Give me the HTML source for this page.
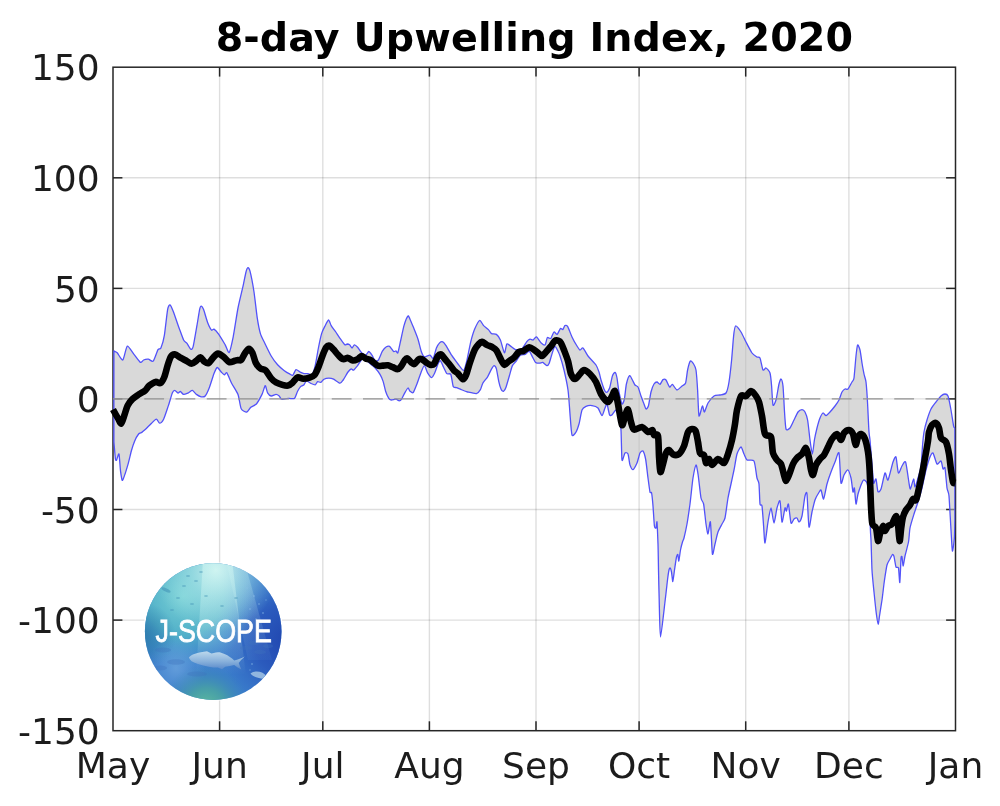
<!DOCTYPE html>
<html lang="en">
<head>
<meta charset="utf-8">
<title>8-day Upwelling Index, 2020</title>
<style>
html,body{margin:0;padding:0;background:#fff;}
body{width:1000px;height:806px;overflow:hidden;}
svg{display:block;}
.tick{font-family:"DejaVu Sans","Liberation Sans",sans-serif;font-size:36px;fill:#1c1c1c;}
.title{font-family:"DejaVu Sans","Liberation Sans",sans-serif;font-weight:bold;font-size:39.6px;letter-spacing:0.1px;fill:#000;}
.logo{font-family:"Liberation Sans","DejaVu Sans",sans-serif;font-size:31px;fill:#fff;stroke:#fff;stroke-width:0.8px;}
</style>
</head>
<body>
<svg width="1000" height="806" viewBox="0 0 1000 806">
<defs>
<clipPath id="plotclip"><rect x="113" y="67.2" width="842.5" height="663.5"/></clipPath>
<clipPath id="lineclip"><rect x="108" y="60" width="852" height="680"/></clipPath>
<clipPath id="logoclip"><circle cx="213.2" cy="631.6" r="68.3"/></clipPath>
<radialGradient id="lgA" gradientUnits="userSpaceOnUse" cx="183" cy="596" r="72">
<stop offset="0" stop-color="#7ad2d6" stop-opacity="1"/>
<stop offset="0.55" stop-color="#54b6c8" stop-opacity="0.88"/>
<stop offset="1" stop-color="#4a9fd0" stop-opacity="0"/>
</radialGradient>
<radialGradient id="lgB" gradientUnits="userSpaceOnUse" cx="216" cy="570" r="62">
<stop offset="0" stop-color="#d4f6f2" stop-opacity="0.95"/>
<stop offset="0.45" stop-color="#aee8ea" stop-opacity="0.55"/>
<stop offset="1" stop-color="#9ee0e6" stop-opacity="0"/>
</radialGradient>
<radialGradient id="lgC" gradientUnits="userSpaceOnUse" cx="290" cy="640" r="72">
<stop offset="0" stop-color="#1f44ae" stop-opacity="1"/>
<stop offset="0.5" stop-color="#264fb8" stop-opacity="0.75"/>
<stop offset="1" stop-color="#2b5cc0" stop-opacity="0"/>
</radialGradient>
<radialGradient id="lgD" gradientUnits="userSpaceOnUse" cx="142" cy="636" r="34">
<stop offset="0" stop-color="#2a78a8" stop-opacity="0.85"/>
<stop offset="1" stop-color="#2a78a8" stop-opacity="0"/>
</radialGradient>
<radialGradient id="lgE" gradientUnits="userSpaceOnUse" cx="206" cy="708" r="44">
<stop offset="0" stop-color="#62c09c" stop-opacity="1"/>
<stop offset="0.45" stop-color="#4aa6a0" stop-opacity="0.8"/>
<stop offset="1" stop-color="#3a86b8" stop-opacity="0"/>
</radialGradient>
<radialGradient id="lgF" gradientUnits="userSpaceOnUse" cx="176" cy="668" r="30">
<stop offset="0" stop-color="#7cb2e4" stop-opacity="0.6"/>
<stop offset="1" stop-color="#7cb2e4" stop-opacity="0"/>
</radialGradient>
<linearGradient id="lgFish" x1="0" y1="0" x2="0" y2="1">
<stop offset="0" stop-color="#c2dcee"/>
<stop offset="0.55" stop-color="#8db4dc"/>
<stop offset="1" stop-color="#5a8aca"/>
</linearGradient>
<linearGradient id="lgBeam" gradientUnits="userSpaceOnUse" x1="0" y1="562" x2="0" y2="675">
<stop offset="0" stop-color="#d0f6f2" stop-opacity="0.55"/>
<stop offset="1" stop-color="#d0f6f2" stop-opacity="0"/>
</linearGradient>
</defs>
<rect x="0" y="0" width="1000" height="806" fill="#ffffff"/>

<g stroke="#000" stroke-opacity="0.13" stroke-width="1.4" fill="none">
<line x1="219.6" y1="67.2" x2="219.6" y2="730.7"/>
<line x1="322.8" y1="67.2" x2="322.8" y2="730.7"/>
<line x1="429.4" y1="67.2" x2="429.4" y2="730.7"/>
<line x1="536" y1="67.2" x2="536" y2="730.7"/>
<line x1="639.1" y1="67.2" x2="639.1" y2="730.7"/>
<line x1="745.7" y1="67.2" x2="745.7" y2="730.7"/>
<line x1="848.9" y1="67.2" x2="848.9" y2="730.7"/>
<line x1="113" y1="177.8" x2="955.5" y2="177.8"/>
<line x1="113" y1="288.4" x2="955.5" y2="288.4"/>
<line x1="113" y1="398.9" x2="955.5" y2="398.9"/>
<line x1="113" y1="509.5" x2="955.5" y2="509.5"/>
<line x1="113" y1="620.1" x2="955.5" y2="620.1"/>
</g>
<g stroke="#262626" stroke-width="1.5" fill="none" stroke-linecap="butt">
<rect x="113" y="67.2" width="842.5" height="663.5"/>
<line x1="219.6" y1="730.7" x2="219.6" y2="721.3"/>
<line x1="219.6" y1="67.2" x2="219.6" y2="76.6"/>
<line x1="322.8" y1="730.7" x2="322.8" y2="721.3"/>
<line x1="322.8" y1="67.2" x2="322.8" y2="76.6"/>
<line x1="429.4" y1="730.7" x2="429.4" y2="721.3"/>
<line x1="429.4" y1="67.2" x2="429.4" y2="76.6"/>
<line x1="536" y1="730.7" x2="536" y2="721.3"/>
<line x1="536" y1="67.2" x2="536" y2="76.6"/>
<line x1="639.1" y1="730.7" x2="639.1" y2="721.3"/>
<line x1="639.1" y1="67.2" x2="639.1" y2="76.6"/>
<line x1="745.7" y1="730.7" x2="745.7" y2="721.3"/>
<line x1="745.7" y1="67.2" x2="745.7" y2="76.6"/>
<line x1="848.9" y1="730.7" x2="848.9" y2="721.3"/>
<line x1="848.9" y1="67.2" x2="848.9" y2="76.6"/>
<line x1="113" y1="177.8" x2="122.4" y2="177.8"/>
<line x1="955.5" y1="177.8" x2="946.1" y2="177.8"/>
<line x1="113" y1="288.4" x2="122.4" y2="288.4"/>
<line x1="955.5" y1="288.4" x2="946.1" y2="288.4"/>
<line x1="113" y1="398.9" x2="122.4" y2="398.9"/>
<line x1="955.5" y1="398.9" x2="946.1" y2="398.9"/>
<line x1="113" y1="509.5" x2="122.4" y2="509.5"/>
<line x1="955.5" y1="509.5" x2="946.1" y2="509.5"/>
<line x1="113" y1="620.1" x2="122.4" y2="620.1"/>
<line x1="955.5" y1="620.1" x2="946.1" y2="620.1"/>
</g>
<g clip-path="url(#plotclip)">
<path d="M113.9 350.9 C114.3 351.1 116.2 351.8 117.2 352.8 C118.2 353.8 121.7 360.7 122.8 360 C123.9 359.3 126.1 346.7 127.3 346.1 C128.5 345.5 132.5 352.6 134 354.4 C135.5 356.2 139.3 361.8 140.4 362.4 C141.5 363 142.7 360.4 143.6 360 C144.5 359.6 147.3 359.1 148.4 359.2 C149.5 359.3 152.1 362.2 153.2 361.1 C154.3 360 157.1 351.1 158 349.6 C158.9 348.1 160.2 349.6 160.9 348 C161.6 346.4 163.7 339.5 164.4 335.2 C165.1 330.9 167 313 167.6 309.6 C168.2 306.2 169.4 304.6 170 304.8 C170.6 305 172.2 308.7 173.2 311.2 C174.2 313.7 177.6 324 178.8 327.2 C180 330.4 182.7 338.2 183.6 340 C184.5 341.8 186 342.2 186.8 343.2 C187.6 344.2 190.1 348.9 190.8 349.3 C191.5 349.7 192.5 349.2 193.2 346.4 C193.9 343.6 196.5 328.1 197.2 324 C197.9 319.9 199.2 311.6 199.6 309.6 C200 307.6 200.8 306.1 201.2 306.1 C201.6 306.1 202.9 307.8 203.6 309.6 C204.3 311.4 206.7 320.1 207.6 322.4 C208.5 324.7 210.9 329.4 211.6 330.1 C212.3 330.8 213.2 328.6 214 329.1 C214.8 329.6 217.6 332.7 218.8 334.4 C220 336.1 224 342.8 225.2 344.8 C226.4 346.8 228.3 353.4 229.2 352.5 C230.1 351.6 232.2 341.7 233.2 336.8 C234.2 331.9 236.9 313.5 238 308 C239.1 302.5 241.9 291.2 242.8 287.2 C243.7 283.2 245.4 274.2 246 272 C246.6 269.8 247.5 267.8 247.9 267.7 C248.3 267.6 249.3 268.5 250 271.2 C250.7 273.9 253.2 286.8 254 292 C254.8 297.2 256.5 313 257.2 317.6 C257.9 322.2 259.6 330.8 260.4 333.6 C261.2 336.4 263.6 340.7 264.8 343.2 C266 345.7 269.8 353.6 271.2 356 C272.6 358.4 276.2 363.2 277.6 364.8 C279 366.4 282.7 369.4 284 370.4 C285.3 371.4 288.6 373.4 289.6 373.9 C290.6 374.4 292.1 375.7 292.8 375.2 C293.5 374.7 295.2 370 296 369.6 C296.8 369.2 299.1 371.6 300 372 C300.9 372.4 303.1 373.4 304 373.6 C304.9 373.8 307.1 373.5 308 373.6 C308.9 373.7 311.2 375.3 312 374.4 C312.8 373.5 314.5 368.5 315.2 365.6 C315.9 362.7 317.7 351.6 318.4 348 C319.1 344.4 320.9 336 321.6 333.6 C322.3 331.2 324 327.9 324.8 326.4 C325.6 324.9 327.8 320.1 328.5 320 C329.2 319.9 330.5 324.4 331.2 325.6 C331.9 326.8 334.2 329.8 335.2 331.2 C336.2 332.6 338.9 336.9 340 338.4 C341.1 339.9 344 344.2 344.8 344.8 C345.6 345.4 346.7 344 347.2 344 C347.7 344 349.1 344.4 349.6 344.8 C350.1 345.2 351.5 348 352 348 C352.5 348 353.8 344.9 354.4 344.8 C355 344.7 356.8 346.3 357.6 347.2 C358.4 348.1 360.7 351.9 361.6 352.8 C362.5 353.7 364.8 355.3 365.6 355.2 C366.4 355.1 368.1 351.5 368.8 351.5 C369.5 351.5 371.3 354.2 372 355.2 C372.7 356.2 374.5 360.3 375.2 360.8 C375.9 361.3 377.6 361.1 378.4 360 C379.2 358.9 381.5 352.7 382.4 351.2 C383.3 349.7 385.6 347.2 386.4 346.7 C387.2 346.2 388.8 345.9 389.6 346.4 C390.4 346.9 392.9 351 393.6 351.5 C394.3 352 395.5 350.8 396 350.9 C396.5 351 397.4 354 397.9 352.8 C398.4 351.6 400.1 343 400.8 340 C401.5 337 403.2 328.3 404 325.6 C404.8 322.9 407.3 316.7 408 316 C408.7 315.3 409.3 317.8 410 319.2 C410.7 320.6 413.1 326.6 414 328.8 C414.9 331 417.2 336.7 418 339.2 C418.8 341.7 420.5 349.2 421.2 351.2 C421.9 353.2 423.4 356.4 424.4 356.8 C425.4 357.2 429 355 430 355.2 C431 355.4 432.5 359.2 433.2 358.4 C433.9 357.6 435.7 349.7 436.4 348 C437.1 346.3 438.9 343.6 439.6 342.9 C440.3 342.2 442.1 341.6 442.8 341.9 C443.5 342.2 445 344.1 446 345.6 C447 347.1 450.3 353.2 451.6 355.2 C452.9 357.2 456.7 362.3 458 364 C459.3 365.7 462.6 370.8 463.6 370.4 C464.6 370 466 364 466.8 360.8 C467.6 357.6 469.9 345.2 470.8 341.6 C471.7 338 473.8 331.1 474.8 328.8 C475.8 326.5 478.6 320.9 479.6 320.5 C480.6 320.1 482.6 324.6 483.6 325.6 C484.6 326.6 487.5 328.7 488.4 329.6 C489.3 330.5 490.7 333.1 491.6 333.6 C492.5 334.1 495.4 333.7 496.4 334.4 C497.4 335.1 499.5 338 500.4 340 C501.3 342 503.7 352.4 504.4 352.8 C505.1 353.2 506.2 344.8 506.8 344 C507.4 343.2 509 345 510 345.6 C511 346.2 514.3 349.2 515.6 349.6 C516.9 350 520.8 349.7 522 348.8 C523.2 347.9 525.9 342.7 526.8 341.6 C527.7 340.5 529.3 339.4 530 339.2 C530.7 339 532.5 340.3 533.2 340 C533.9 339.7 535.5 336.5 536.4 336.8 C537.3 337.1 540.2 342 541.2 342.9 C542.2 343.8 544.5 345.4 545.2 344.8 C545.9 344.2 546.7 338.3 547.3 337.6 C547.9 336.9 550.1 339 550.8 338.4 C551.5 337.8 553.3 332.4 554 332 C554.7 331.6 556.5 334.8 557.2 334.4 C557.9 334 559.8 329 560.4 328.5 C561 328 562.3 329.9 562.8 329.6 C563.3 329.3 564.4 326 564.9 325.6 C565.4 325.2 566.8 325.1 567.6 326.4 C568.4 327.7 571 334.8 572 337 C573 339.2 576.1 344.6 577 346 C577.9 347.4 579.3 349.8 580 350 C580.7 350.2 582.1 347.3 583 348 C583.9 348.7 586.6 354.1 588 356 C589.4 357.9 594.8 363.2 596 365 C597.2 366.8 598.4 370.3 599 372 C599.6 373.7 600.4 378.1 601 380 C601.6 381.9 603.4 387.6 604 389 C604.6 390.4 605.8 392.5 606.4 392.4 C607 392.3 608.9 389.8 609.6 388 C610.3 386.2 611.8 377.7 612.4 376 C613 374.3 614.5 372.2 615 372.4 C615.5 372.6 616.6 375.8 617 378 C617.4 380.2 618.4 389.1 619 392 C619.6 394.9 621.4 403.2 622 404 C622.6 404.8 623.9 401.2 624.4 399 C624.9 396.8 625.8 386.6 626.4 384 C627 381.4 628.9 376 629.6 375.6 C630.3 375.2 631.8 379 632.4 380 C633 381 634.4 384.2 635 385 C635.6 385.8 637.3 385.8 638 387 C638.7 388.2 640.3 394.1 641 396 C641.7 397.9 643.4 402.6 644 404 C644.6 405.4 645.5 408.8 646 409 C646.5 409.2 647.8 407.9 648.4 406 C649 404.1 650.4 394.4 651 392 C651.6 389.6 653.3 385.1 654 384 C654.7 382.9 656.3 382 657 382 C657.7 382 659.3 384.7 660 384.4 C660.7 384.1 662.3 380.1 663 379.6 C663.7 379.1 665.3 379.2 666 380 C666.7 380.8 668.9 386.5 669.6 387 C670.3 387.5 671.6 384.1 672.4 384.4 C673.2 384.7 675.9 389.8 677 390 C678.1 390.2 681 386.8 682 386 C683 385.2 685 384.8 685.6 383 C686.2 381.2 687.1 372.4 687.6 370 C688.1 367.6 689.7 361.7 690.4 361 C691.1 360.3 693 363 693.6 364 C694.2 365 695.6 367.1 696 370 C696.4 372.9 697.3 384.9 697.6 390 C697.9 395.1 698.5 414.2 699 416 C699.5 417.8 701.8 406.4 702.4 406 C703 405.6 703.8 412.3 704.4 412 C705 411.7 706.9 404.8 708 403 C709.1 401.2 712.7 396.9 714 396 C715.3 395.1 718.7 395.3 720 395 C721.3 394.7 725 394.4 726 393 C727 391.6 728.4 385.7 729 382 C729.6 378.3 731.1 365.1 731.6 360 C732.1 354.9 733.2 339.8 733.6 336 C734 332.2 734.8 326.4 735.6 326 C736.4 325.6 739.8 330.2 741 332 C742.2 333.8 744.8 339.7 746 342 C747.2 344.3 750.8 351.3 752 353 C753.2 354.7 756.1 356.4 757 357 C757.9 357.6 759.3 356.6 760 358 C760.7 359.4 762.3 368.9 763 370 C763.7 371.1 765.2 367.7 766 368 C766.8 368.3 769.4 371 770 373 C770.6 375 771.3 382.4 771.6 386 C771.9 389.6 772.5 403.4 773 405 C773.5 406.6 775.3 402.3 776 400 C776.7 397.7 778.4 386.3 779 384 C779.6 381.7 780.6 378.8 781 379 C781.4 379.2 782.6 382.6 783 386 C783.4 389.4 784.1 405.2 784.4 410 C784.7 414.8 785.4 427 786 429 C786.6 431 789.1 429 790 428 C790.9 427 793.1 421.8 794 420 C794.9 418.2 797.1 413.2 798 412 C798.9 410.8 801.2 409.6 802 409.6 C802.8 409.6 804.4 410.8 805 412 C805.6 413.2 807 416.9 807.6 420 C808.2 423.1 809.5 436.2 810 440 C810.5 443.8 811.9 454 812.4 454 C812.9 454 813.9 442.9 814.4 440 C814.9 437.1 816.4 430.4 817 428 C817.6 425.6 819.3 419.7 820 418 C820.7 416.3 822.3 413.3 823 413 C823.7 412.7 825.2 415.7 826 415.6 C826.8 415.5 829 413.1 830 412 C831 410.9 834 407.3 835 406 C836 404.7 838.2 401.6 839 400 C839.8 398.4 841.3 393.2 842 392 C842.7 390.8 844.3 389.3 845 389 C845.7 388.7 847.2 389.8 848 389 C848.8 388.2 851.3 383.2 852 382 C852.7 380.8 853.6 380.9 854 378 C854.4 375.1 855.6 359.7 856 356 C856.4 352.3 857.2 345.7 857.6 345 C858 344.3 859.5 348 860 350 C860.5 352 861.6 360.3 862 363 C862.4 365.7 863.6 371.9 864 374 C864.4 376.1 865.6 378.7 866 382 C866.4 385.3 867.3 398.4 867.6 404 C867.9 409.6 868.7 428 869 432 C869.3 436 869.7 436.4 870 440 C870.3 443.6 871.6 459.2 872 464 C872.4 468.8 873.2 481.3 873.6 483 C874 484.7 875.5 478 876 479 C876.5 480 877.4 490.5 878 491.6 C878.6 492.7 880.2 491.1 881 489 C881.8 486.9 884.2 474 885 473 C885.8 472 887.1 481.2 888 480 C888.9 478.8 892.1 464.6 893 462 C893.9 459.4 895.4 455.8 896 457 C896.6 458.2 897.7 472 898.4 473 C899.1 474 901.2 467.2 902 466 C902.8 464.8 904.8 460.1 905.6 462 C906.4 463.9 908.5 480 909 483 C909.5 486 909.9 489.4 910.4 489 C910.9 488.6 913.1 479.2 913.6 479 C914.1 478.8 914.5 487.1 915 487 C915.5 486.9 917.3 480.3 918 478 C918.7 475.7 920.5 469.6 921 466 C921.5 462.4 922.2 449.8 922.5 446 C922.8 442.2 923.5 434.9 924 432 C924.5 429.1 926.2 422.6 927 420 C927.8 417.4 930 411 931 409 C932 407 934.9 403.4 936 402 C937.1 400.6 940 396.9 941 396 C942 395.1 944.2 394 945 394 C945.8 394 947.3 394.2 948 396 C948.7 397.8 950.4 406.7 951 410 C951.6 413.3 953.2 424 953.6 426 C954 428 954.8 427.8 954.9 428 L954.9 520 C954.8 522 954.7 534.6 954.4 538 C954.1 541.4 952.8 551.9 952.4 551 C952 550.1 951.4 536.1 951 530 C950.6 523.9 949.4 500.7 949 496 C948.6 491.3 947.4 491.1 947 488 C946.6 484.9 945.4 470.1 945 468 C944.6 465.9 943.4 469.8 943 469 C942.6 468.2 941.7 461.6 941 461 C940.3 460.4 937.9 464.9 937 464 C936.1 463.1 933.8 453.8 933 453 C932.2 452.2 930.8 455.1 930 457 C929.2 458.9 926.9 466.6 926 470 C925.1 473.4 922.9 484.4 922 488 C921.1 491.6 918.9 499.1 918 502 C917.1 504.9 914.9 511.1 914 514 C913.1 516.9 910.6 524.9 910 528 C909.4 531.1 909.1 538.9 908.5 542 C907.9 545.1 905.6 553.3 905 556 C904.4 558.7 903.5 565.9 903.2 566 C902.9 566.1 902.2 557.8 902 557 C901.8 556.2 901.2 555.7 901 558.5 C900.8 561.3 900.1 581.4 899.8 582.5 C899.5 583.6 898.9 569.7 898.5 568 C898.1 566.3 896.5 568.3 896 567 C895.5 565.7 894.4 557.9 894 556.5 C893.6 555.1 892.9 554.2 892.5 554.5 C892.1 554.8 890.6 557.8 890 559 C889.4 560.2 887.6 562.7 887 565 C886.4 567.3 885.1 576.1 884.5 580 C883.9 583.9 882.6 596 882 600 C881.4 604 879.9 613.3 879.5 616 C879.1 618.7 878.5 624.3 878.2 624.2 C877.9 624.1 877 618.6 876.5 615 C876 611.4 874.5 597 874 592 C873.5 587 872.3 575.8 872 570 C871.7 564.2 871.2 544.4 871 540 C870.8 535.6 870.6 534.9 870.4 530 C870.2 525.1 869.4 501.2 869 496 C868.6 490.8 867.6 484.8 867 483 C866.4 481.2 864.3 479.8 863.6 480 C862.9 480.2 861.6 483.4 861 485 C860.4 486.6 858.6 491.9 858 494 C857.4 496.1 856.4 504.7 856 504 C855.6 503.3 854.7 489.3 854.4 488 C854.1 486.7 853.4 493.1 853 492 C852.6 490.9 851.6 480.4 851 478 C850.4 475.6 848.8 470.3 848 470 C847.2 469.7 844.8 473.6 844 475 C843.2 476.4 841.6 485.4 841 483 C840.4 480.6 839.7 455.3 839 453 C838.3 450.7 835.9 459.9 835 462 C834.1 464.1 831.9 469.6 831 472 C830.1 474.4 827.8 481 827 484 C826.2 487 824.3 498.3 823.6 499 C822.9 499.7 821.6 490.6 821 490 C820.4 489.4 818.7 492.9 818 494 C817.3 495.1 815.7 498 815 500 C814.3 502 812.7 509 812 512 C811.3 515 809.6 529 809 527 C808.4 525 807.4 497.4 807 494 C806.6 490.6 805.6 493.6 805 496 C804.4 498.4 802.7 513.1 802 516 C801.3 518.9 799.6 521.8 799 522 C798.4 522.2 797.6 518.3 797 518 C796.4 517.7 794.7 518.4 794 519 C793.3 519.6 791.6 524.7 791 523 C790.4 521.3 788.9 505.3 788.4 504 C787.9 502.7 786.8 510.6 786.4 511 C786 511.4 785.5 506.8 785 508 C784.5 509.2 782.6 522.8 782 522 C781.4 521.2 780.6 502.6 780 501 C779.4 499.4 777.7 505.6 777 508 C776.3 510.4 774.7 523 774 523 C773.3 523 771.7 508.1 771 508 C770.3 507.9 768.7 518.1 768 522 C767.3 525.9 765.5 542.6 765 543 C764.5 543.4 763.9 530.1 763.6 526 C763.3 521.9 762.4 508.4 762 506 C761.6 503.6 760.3 506.4 760 504 C759.7 501.6 759.3 486.9 759 484 C758.7 481.1 757.6 480.6 757 478 C756.4 475.4 755.1 463 754 461 C752.9 459 748.1 460.8 747 460 C745.9 459.2 744.7 455.4 744 454 C743.3 452.6 741.8 447 741 447 C740.2 447 737.8 451.4 737 454 C736.2 456.6 734.7 466.7 734 470 C733.3 473.3 731.7 480.9 731 484 C730.3 487.1 728.7 494.2 728 498 C727.3 501.8 725.7 515.1 725 518 C724.3 520.9 722.8 522.4 722 524 C721.2 525.6 718.8 529.8 718 532 C717.2 534.2 715.6 541.6 715 544 C714.4 546.4 712.9 556.4 712.4 554 C711.9 551.6 710.9 524.2 710.4 522 C709.9 519.8 708.5 533.8 708 534 C707.5 534.2 706.5 527.3 706 524 C705.5 520.7 704.2 506.9 703.6 504 C703 501.1 701.6 501.3 701 498 C700.4 494.7 698.6 477.7 698 474 C697.4 470.3 696.6 464.6 696 465 C695.4 465.4 693.7 473.7 693 478 C692.3 482.3 690.7 498.9 690 504 C689.3 509.1 687.7 520.2 687 524 C686.3 527.8 684.5 536 684 538 C683.5 540 682.9 540.7 682.5 542 C682.1 543.3 680.9 547.9 680.5 550 C680.1 552.1 679.1 560.5 678.8 561 C678.5 561.5 678.1 554.9 677.8 554.5 C677.5 554.1 676.9 555.3 676.5 557 C676.1 558.7 674.9 567.3 674.5 570 C674.1 572.7 673.1 581.3 672.8 581.5 C672.5 581.7 671.8 573.5 671.5 572 C671.2 570.5 670.5 568.2 670.2 568 C669.9 567.8 669.3 568.7 669 570 C668.7 571.3 667.9 576.7 667.5 580 C667.1 583.3 666 593.7 665.2 600 C664.4 606.3 661.2 637 660.5 637 C659.8 637 659.4 607.4 659.2 600 C659 592.6 658.6 576.2 658.5 570 C658.4 563.8 658.2 549.3 658 544 C657.8 538.7 657.2 523.8 657 522 C656.8 520.2 656.3 527.6 656 528 C655.7 528.4 654.7 528.4 654.4 526 C654.1 523.6 653.3 509.7 653 506 C652.7 502.3 651.9 494.6 651.6 493 C651.3 491.4 650.4 493.7 650 492 C649.6 490.3 648.5 481.7 648 478 C647.5 474.3 646.2 462 645.6 459 C645 456 643.6 451.7 643 451 C642.4 450.3 640.7 451.7 640 453 C639.3 454.3 637.8 461.2 637 463 C636.2 464.8 633.8 469.4 633 469.6 C632.2 469.8 630.6 466.7 630 465 C629.4 463.3 628.6 455.3 628 454 C627.4 452.7 625.7 452.3 625 453 C624.3 453.7 622.4 462.6 622 460 C621.6 457.4 621.3 434.7 621 430 C620.7 425.3 619.6 420.2 619 418 C618.4 415.8 616.7 410.4 616 410 C615.3 409.6 613.1 413.8 612.4 414.4 C611.7 415 610.2 416.2 609.6 415 C609 413.8 607.5 404.8 607 404 C606.5 403.2 605.6 406.7 605 408 C604.4 409.3 602.8 415.6 602 415.6 C601.2 415.6 599.1 409.1 598 408 C596.9 406.9 593.3 405.8 592 405.6 C590.7 405.4 587.1 405.9 586 406.4 C584.9 406.9 582.8 408 582 410 C581.2 412 579.7 421.6 579 424 C578.3 426.4 576.8 430.8 576 432 C575.2 433.2 572.7 437 572 435 C571.3 433 570.4 419 570 414 C569.6 409 568.7 394.9 568 390 C567.3 385.1 564.9 373.8 564 370 C563.1 366.2 560.7 358.1 560 356 C559.3 353.9 558.6 352.3 558 351.2 C557.4 350.1 555.5 346 554.8 346.4 C554.1 346.8 552.2 353.3 551.6 355.2 C551 357.1 549.7 362 549.2 363.2 C548.7 364.4 547.5 365.7 546.8 365.6 C546.1 365.5 543.6 362.7 542.8 362.4 C542 362.1 540.4 363.2 539.6 363.2 C538.8 363.2 536.4 363.1 535.6 362.4 C534.8 361.7 533.1 358 532.4 356.8 C531.7 355.6 530 351.5 529.2 351.2 C528.4 350.9 526.2 354 525.2 354.4 C524.2 354.8 521.4 354.5 520.4 355.2 C519.4 355.9 517.3 359.6 516.4 360.8 C515.5 362 513.1 364.2 512.4 365.6 C511.7 367 510.7 371.2 510 373.6 C509.3 376 506.7 385.2 506 387.2 C505.3 389.2 504.1 390.9 503.6 391.2 C503.1 391.5 501.7 390.7 501.2 389.6 C500.7 388.5 499.3 383.9 498.8 381.6 C498.3 379.3 496.9 370.6 496.4 368.8 C495.9 367 494.5 365.6 494 365.6 C493.5 365.6 492.3 367.6 491.6 368.8 C490.9 370 488.6 375.2 487.6 376.8 C486.6 378.4 483.6 381.8 482.8 383.2 C482 384.6 481.1 388.4 480.4 389.6 C479.7 390.8 477.8 393.3 476.4 393.6 C475 393.9 469.3 392.4 467.6 392 C465.9 391.6 462.4 390.1 461.2 389.6 C460 389.1 457.3 388.1 456.4 387.7 C455.5 387.3 453.8 387.9 453.2 386.4 C452.6 384.9 451.5 375.8 450.8 374.4 C450.1 373 447.6 374.4 446.8 373.6 C446 372.8 444.3 368.6 443.6 367.2 C442.9 365.8 441 361.2 440.4 360.8 C439.8 360.4 438.6 362.7 438 364 C437.4 365.3 435.5 371.3 434.8 372.8 C434.1 374.3 432.4 377.6 431.6 377.6 C430.8 377.6 428.4 374.1 427.6 372.8 C426.8 371.5 425.1 365.7 424.4 365.6 C423.7 365.5 422 370 421.2 372 C420.4 374 418.1 380.9 417.2 383.2 C416.3 385.5 414 391.6 413.2 392.5 C412.4 393.4 410.6 391.7 410 391.2 C409.4 390.7 408.6 387.8 408 388 C407.4 388.2 405.5 391.6 404.8 392.8 C404.1 394 402.2 398.3 401.6 399.2 C401 400.1 399.8 400.8 399.2 400.8 C398.6 400.8 396.9 399.3 396 399.2 C395.1 399.1 392 400.1 391.2 400 C390.4 399.9 389.4 399.4 388.8 398.4 C388.2 397.4 386.2 393.1 385.6 391.2 C385 389.3 383.8 383.5 383.2 381.6 C382.6 379.7 380.9 375.9 380 374.4 C379.1 372.9 376.4 369.3 375.2 368 C374 366.7 370.1 363.5 368.8 362.4 C367.5 361.3 364.1 358.6 363.2 358.4 C362.3 358.2 361.4 360 360.8 360.8 C360.2 361.6 358.4 364.6 357.6 365.6 C356.8 366.6 354.3 369.7 353.6 370.1 C352.9 370.5 351.8 368.6 351.2 368.8 C350.6 369 348.9 370.8 348 372 C347.1 373.2 344.1 378.8 343.2 380 C342.3 381.2 341.1 383.3 340 383.2 C338.9 383.1 334.8 379.8 333.6 379.2 C332.4 378.6 329.9 378.1 328.8 378.1 C327.7 378.1 324.9 378.7 324 379.2 C323.1 379.7 321.5 382.1 320.8 382.4 C320.1 382.7 318.2 381.3 317.6 381.6 C317 381.9 316 384.6 315.2 384.8 C314.4 385 311.4 383.6 310.4 383.2 C309.4 382.8 307.1 380.6 306.4 380.8 C305.7 381 304.6 384.2 304 384.8 C303.4 385.4 301.5 385.7 300.8 386.4 C300.1 387.1 298.3 389.9 297.6 391.2 C296.9 392.5 295.4 397.6 294.4 398.4 C293.4 399.2 290.2 398.3 288.8 398.4 C287.4 398.5 282.7 399.5 281.6 399.2 C280.5 398.9 279.8 396.5 279.2 396 C278.6 395.5 276.9 394.4 276 394.4 C275.1 394.4 272.1 396.2 271.2 396 C270.3 395.8 268.3 394 267.6 392.8 C266.9 391.6 265.8 385.4 265.2 385.6 C264.6 385.8 263 392.4 262 394.4 C261 396.4 257.6 402.6 256.4 404 C255.2 405.4 251.9 406.3 250.8 407.2 C249.7 408.1 247.9 411.8 246.8 412 C245.7 412.2 242.2 410.8 241.2 408.8 C240.2 406.8 239.1 397.2 238 394.4 C236.9 391.6 232.8 385.6 231.6 383.2 C230.4 380.8 227.6 373.7 226.8 372.8 C226 371.9 225 375 224.4 374.9 C223.8 374.8 222 372.8 221.2 372 C220.4 371.2 218 367.3 217.2 367.5 C216.4 367.7 214.9 371.3 214 373.6 C213.1 375.9 210.2 385.5 209.2 388 C208.2 390.5 206.1 395 205.2 396 C204.3 397 202.2 397 201.2 396.8 C200.2 396.6 197.4 395.1 196.4 394.4 C195.4 393.7 193.3 390.6 192.4 390.4 C191.5 390.2 189.4 392.4 188.4 392.8 C187.4 393.2 184.5 394.5 183.6 394.4 C182.7 394.3 181 391.6 180.4 391.5 C179.8 391.4 178.6 393.2 178 393.1 C177.4 393 175.4 390.4 174.8 390.4 C174.2 390.4 173.1 391.1 172.4 392.8 C171.7 394.5 169.4 402.7 168.4 405.6 C167.4 408.5 164.6 417.2 163.6 419.2 C162.6 421.2 160.4 423.2 159.6 423.2 C158.8 423.2 157.3 419.2 156.4 419.2 C155.5 419.2 152.8 422 151.6 423.2 C150.4 424.4 146.3 428.6 145.2 429.6 C144.1 430.6 142.5 431.9 141.8 432.4 C141.1 432.9 139.4 433 138.6 434 C137.8 435 135.4 439.3 134.6 441.2 C133.8 443.1 132.1 448.3 131.4 450.8 C130.7 453.3 129 460.8 128.2 463.6 C127.4 466.4 124.9 474.5 124.2 476.4 C123.5 478.3 122.6 480.9 122.2 480.4 C121.8 479.9 121 474.5 120.6 471.6 C120.2 468.7 119.4 455.3 119 454 C118.6 452.7 117 459.5 116.6 460 C116.2 460.5 115.7 460.8 115.4 458.8 C115.1 456.8 114.1 443.9 113.9 442 Z" fill="#bebebe" fill-opacity="0.58" stroke="none"/>
<path d="M113.9 350.9 C114.3 351.1 116.2 351.8 117.2 352.8 C118.2 353.8 121.7 360.7 122.8 360 C123.9 359.3 126.1 346.7 127.3 346.1 C128.5 345.5 132.5 352.6 134 354.4 C135.5 356.2 139.3 361.8 140.4 362.4 C141.5 363 142.7 360.4 143.6 360 C144.5 359.6 147.3 359.1 148.4 359.2 C149.5 359.3 152.1 362.2 153.2 361.1 C154.3 360 157.1 351.1 158 349.6 C158.9 348.1 160.2 349.6 160.9 348 C161.6 346.4 163.7 339.5 164.4 335.2 C165.1 330.9 167 313 167.6 309.6 C168.2 306.2 169.4 304.6 170 304.8 C170.6 305 172.2 308.7 173.2 311.2 C174.2 313.7 177.6 324 178.8 327.2 C180 330.4 182.7 338.2 183.6 340 C184.5 341.8 186 342.2 186.8 343.2 C187.6 344.2 190.1 348.9 190.8 349.3 C191.5 349.7 192.5 349.2 193.2 346.4 C193.9 343.6 196.5 328.1 197.2 324 C197.9 319.9 199.2 311.6 199.6 309.6 C200 307.6 200.8 306.1 201.2 306.1 C201.6 306.1 202.9 307.8 203.6 309.6 C204.3 311.4 206.7 320.1 207.6 322.4 C208.5 324.7 210.9 329.4 211.6 330.1 C212.3 330.8 213.2 328.6 214 329.1 C214.8 329.6 217.6 332.7 218.8 334.4 C220 336.1 224 342.8 225.2 344.8 C226.4 346.8 228.3 353.4 229.2 352.5 C230.1 351.6 232.2 341.7 233.2 336.8 C234.2 331.9 236.9 313.5 238 308 C239.1 302.5 241.9 291.2 242.8 287.2 C243.7 283.2 245.4 274.2 246 272 C246.6 269.8 247.5 267.8 247.9 267.7 C248.3 267.6 249.3 268.5 250 271.2 C250.7 273.9 253.2 286.8 254 292 C254.8 297.2 256.5 313 257.2 317.6 C257.9 322.2 259.6 330.8 260.4 333.6 C261.2 336.4 263.6 340.7 264.8 343.2 C266 345.7 269.8 353.6 271.2 356 C272.6 358.4 276.2 363.2 277.6 364.8 C279 366.4 282.7 369.4 284 370.4 C285.3 371.4 288.6 373.4 289.6 373.9 C290.6 374.4 292.1 375.7 292.8 375.2 C293.5 374.7 295.2 370 296 369.6 C296.8 369.2 299.1 371.6 300 372 C300.9 372.4 303.1 373.4 304 373.6 C304.9 373.8 307.1 373.5 308 373.6 C308.9 373.7 311.2 375.3 312 374.4 C312.8 373.5 314.5 368.5 315.2 365.6 C315.9 362.7 317.7 351.6 318.4 348 C319.1 344.4 320.9 336 321.6 333.6 C322.3 331.2 324 327.9 324.8 326.4 C325.6 324.9 327.8 320.1 328.5 320 C329.2 319.9 330.5 324.4 331.2 325.6 C331.9 326.8 334.2 329.8 335.2 331.2 C336.2 332.6 338.9 336.9 340 338.4 C341.1 339.9 344 344.2 344.8 344.8 C345.6 345.4 346.7 344 347.2 344 C347.7 344 349.1 344.4 349.6 344.8 C350.1 345.2 351.5 348 352 348 C352.5 348 353.8 344.9 354.4 344.8 C355 344.7 356.8 346.3 357.6 347.2 C358.4 348.1 360.7 351.9 361.6 352.8 C362.5 353.7 364.8 355.3 365.6 355.2 C366.4 355.1 368.1 351.5 368.8 351.5 C369.5 351.5 371.3 354.2 372 355.2 C372.7 356.2 374.5 360.3 375.2 360.8 C375.9 361.3 377.6 361.1 378.4 360 C379.2 358.9 381.5 352.7 382.4 351.2 C383.3 349.7 385.6 347.2 386.4 346.7 C387.2 346.2 388.8 345.9 389.6 346.4 C390.4 346.9 392.9 351 393.6 351.5 C394.3 352 395.5 350.8 396 350.9 C396.5 351 397.4 354 397.9 352.8 C398.4 351.6 400.1 343 400.8 340 C401.5 337 403.2 328.3 404 325.6 C404.8 322.9 407.3 316.7 408 316 C408.7 315.3 409.3 317.8 410 319.2 C410.7 320.6 413.1 326.6 414 328.8 C414.9 331 417.2 336.7 418 339.2 C418.8 341.7 420.5 349.2 421.2 351.2 C421.9 353.2 423.4 356.4 424.4 356.8 C425.4 357.2 429 355 430 355.2 C431 355.4 432.5 359.2 433.2 358.4 C433.9 357.6 435.7 349.7 436.4 348 C437.1 346.3 438.9 343.6 439.6 342.9 C440.3 342.2 442.1 341.6 442.8 341.9 C443.5 342.2 445 344.1 446 345.6 C447 347.1 450.3 353.2 451.6 355.2 C452.9 357.2 456.7 362.3 458 364 C459.3 365.7 462.6 370.8 463.6 370.4 C464.6 370 466 364 466.8 360.8 C467.6 357.6 469.9 345.2 470.8 341.6 C471.7 338 473.8 331.1 474.8 328.8 C475.8 326.5 478.6 320.9 479.6 320.5 C480.6 320.1 482.6 324.6 483.6 325.6 C484.6 326.6 487.5 328.7 488.4 329.6 C489.3 330.5 490.7 333.1 491.6 333.6 C492.5 334.1 495.4 333.7 496.4 334.4 C497.4 335.1 499.5 338 500.4 340 C501.3 342 503.7 352.4 504.4 352.8 C505.1 353.2 506.2 344.8 506.8 344 C507.4 343.2 509 345 510 345.6 C511 346.2 514.3 349.2 515.6 349.6 C516.9 350 520.8 349.7 522 348.8 C523.2 347.9 525.9 342.7 526.8 341.6 C527.7 340.5 529.3 339.4 530 339.2 C530.7 339 532.5 340.3 533.2 340 C533.9 339.7 535.5 336.5 536.4 336.8 C537.3 337.1 540.2 342 541.2 342.9 C542.2 343.8 544.5 345.4 545.2 344.8 C545.9 344.2 546.7 338.3 547.3 337.6 C547.9 336.9 550.1 339 550.8 338.4 C551.5 337.8 553.3 332.4 554 332 C554.7 331.6 556.5 334.8 557.2 334.4 C557.9 334 559.8 329 560.4 328.5 C561 328 562.3 329.9 562.8 329.6 C563.3 329.3 564.4 326 564.9 325.6 C565.4 325.2 566.8 325.1 567.6 326.4 C568.4 327.7 571 334.8 572 337 C573 339.2 576.1 344.6 577 346 C577.9 347.4 579.3 349.8 580 350 C580.7 350.2 582.1 347.3 583 348 C583.9 348.7 586.6 354.1 588 356 C589.4 357.9 594.8 363.2 596 365 C597.2 366.8 598.4 370.3 599 372 C599.6 373.7 600.4 378.1 601 380 C601.6 381.9 603.4 387.6 604 389 C604.6 390.4 605.8 392.5 606.4 392.4 C607 392.3 608.9 389.8 609.6 388 C610.3 386.2 611.8 377.7 612.4 376 C613 374.3 614.5 372.2 615 372.4 C615.5 372.6 616.6 375.8 617 378 C617.4 380.2 618.4 389.1 619 392 C619.6 394.9 621.4 403.2 622 404 C622.6 404.8 623.9 401.2 624.4 399 C624.9 396.8 625.8 386.6 626.4 384 C627 381.4 628.9 376 629.6 375.6 C630.3 375.2 631.8 379 632.4 380 C633 381 634.4 384.2 635 385 C635.6 385.8 637.3 385.8 638 387 C638.7 388.2 640.3 394.1 641 396 C641.7 397.9 643.4 402.6 644 404 C644.6 405.4 645.5 408.8 646 409 C646.5 409.2 647.8 407.9 648.4 406 C649 404.1 650.4 394.4 651 392 C651.6 389.6 653.3 385.1 654 384 C654.7 382.9 656.3 382 657 382 C657.7 382 659.3 384.7 660 384.4 C660.7 384.1 662.3 380.1 663 379.6 C663.7 379.1 665.3 379.2 666 380 C666.7 380.8 668.9 386.5 669.6 387 C670.3 387.5 671.6 384.1 672.4 384.4 C673.2 384.7 675.9 389.8 677 390 C678.1 390.2 681 386.8 682 386 C683 385.2 685 384.8 685.6 383 C686.2 381.2 687.1 372.4 687.6 370 C688.1 367.6 689.7 361.7 690.4 361 C691.1 360.3 693 363 693.6 364 C694.2 365 695.6 367.1 696 370 C696.4 372.9 697.3 384.9 697.6 390 C697.9 395.1 698.5 414.2 699 416 C699.5 417.8 701.8 406.4 702.4 406 C703 405.6 703.8 412.3 704.4 412 C705 411.7 706.9 404.8 708 403 C709.1 401.2 712.7 396.9 714 396 C715.3 395.1 718.7 395.3 720 395 C721.3 394.7 725 394.4 726 393 C727 391.6 728.4 385.7 729 382 C729.6 378.3 731.1 365.1 731.6 360 C732.1 354.9 733.2 339.8 733.6 336 C734 332.2 734.8 326.4 735.6 326 C736.4 325.6 739.8 330.2 741 332 C742.2 333.8 744.8 339.7 746 342 C747.2 344.3 750.8 351.3 752 353 C753.2 354.7 756.1 356.4 757 357 C757.9 357.6 759.3 356.6 760 358 C760.7 359.4 762.3 368.9 763 370 C763.7 371.1 765.2 367.7 766 368 C766.8 368.3 769.4 371 770 373 C770.6 375 771.3 382.4 771.6 386 C771.9 389.6 772.5 403.4 773 405 C773.5 406.6 775.3 402.3 776 400 C776.7 397.7 778.4 386.3 779 384 C779.6 381.7 780.6 378.8 781 379 C781.4 379.2 782.6 382.6 783 386 C783.4 389.4 784.1 405.2 784.4 410 C784.7 414.8 785.4 427 786 429 C786.6 431 789.1 429 790 428 C790.9 427 793.1 421.8 794 420 C794.9 418.2 797.1 413.2 798 412 C798.9 410.8 801.2 409.6 802 409.6 C802.8 409.6 804.4 410.8 805 412 C805.6 413.2 807 416.9 807.6 420 C808.2 423.1 809.5 436.2 810 440 C810.5 443.8 811.9 454 812.4 454 C812.9 454 813.9 442.9 814.4 440 C814.9 437.1 816.4 430.4 817 428 C817.6 425.6 819.3 419.7 820 418 C820.7 416.3 822.3 413.3 823 413 C823.7 412.7 825.2 415.7 826 415.6 C826.8 415.5 829 413.1 830 412 C831 410.9 834 407.3 835 406 C836 404.7 838.2 401.6 839 400 C839.8 398.4 841.3 393.2 842 392 C842.7 390.8 844.3 389.3 845 389 C845.7 388.7 847.2 389.8 848 389 C848.8 388.2 851.3 383.2 852 382 C852.7 380.8 853.6 380.9 854 378 C854.4 375.1 855.6 359.7 856 356 C856.4 352.3 857.2 345.7 857.6 345 C858 344.3 859.5 348 860 350 C860.5 352 861.6 360.3 862 363 C862.4 365.7 863.6 371.9 864 374 C864.4 376.1 865.6 378.7 866 382 C866.4 385.3 867.3 398.4 867.6 404 C867.9 409.6 868.7 428 869 432 C869.3 436 869.7 436.4 870 440 C870.3 443.6 871.6 459.2 872 464 C872.4 468.8 873.2 481.3 873.6 483 C874 484.7 875.5 478 876 479 C876.5 480 877.4 490.5 878 491.6 C878.6 492.7 880.2 491.1 881 489 C881.8 486.9 884.2 474 885 473 C885.8 472 887.1 481.2 888 480 C888.9 478.8 892.1 464.6 893 462 C893.9 459.4 895.4 455.8 896 457 C896.6 458.2 897.7 472 898.4 473 C899.1 474 901.2 467.2 902 466 C902.8 464.8 904.8 460.1 905.6 462 C906.4 463.9 908.5 480 909 483 C909.5 486 909.9 489.4 910.4 489 C910.9 488.6 913.1 479.2 913.6 479 C914.1 478.8 914.5 487.1 915 487 C915.5 486.9 917.3 480.3 918 478 C918.7 475.7 920.5 469.6 921 466 C921.5 462.4 922.2 449.8 922.5 446 C922.8 442.2 923.5 434.9 924 432 C924.5 429.1 926.2 422.6 927 420 C927.8 417.4 930 411 931 409 C932 407 934.9 403.4 936 402 C937.1 400.6 940 396.9 941 396 C942 395.1 944.2 394 945 394 C945.8 394 947.3 394.2 948 396 C948.7 397.8 950.4 406.7 951 410 C951.6 413.3 953.2 424 953.6 426 C954 428 954.8 427.8 954.9 428 L954.9 520 C954.8 522 954.7 534.6 954.4 538 C954.1 541.4 952.8 551.9 952.4 551 C952 550.1 951.4 536.1 951 530 C950.6 523.9 949.4 500.7 949 496 C948.6 491.3 947.4 491.1 947 488 C946.6 484.9 945.4 470.1 945 468 C944.6 465.9 943.4 469.8 943 469 C942.6 468.2 941.7 461.6 941 461 C940.3 460.4 937.9 464.9 937 464 C936.1 463.1 933.8 453.8 933 453 C932.2 452.2 930.8 455.1 930 457 C929.2 458.9 926.9 466.6 926 470 C925.1 473.4 922.9 484.4 922 488 C921.1 491.6 918.9 499.1 918 502 C917.1 504.9 914.9 511.1 914 514 C913.1 516.9 910.6 524.9 910 528 C909.4 531.1 909.1 538.9 908.5 542 C907.9 545.1 905.6 553.3 905 556 C904.4 558.7 903.5 565.9 903.2 566 C902.9 566.1 902.2 557.8 902 557 C901.8 556.2 901.2 555.7 901 558.5 C900.8 561.3 900.1 581.4 899.8 582.5 C899.5 583.6 898.9 569.7 898.5 568 C898.1 566.3 896.5 568.3 896 567 C895.5 565.7 894.4 557.9 894 556.5 C893.6 555.1 892.9 554.2 892.5 554.5 C892.1 554.8 890.6 557.8 890 559 C889.4 560.2 887.6 562.7 887 565 C886.4 567.3 885.1 576.1 884.5 580 C883.9 583.9 882.6 596 882 600 C881.4 604 879.9 613.3 879.5 616 C879.1 618.7 878.5 624.3 878.2 624.2 C877.9 624.1 877 618.6 876.5 615 C876 611.4 874.5 597 874 592 C873.5 587 872.3 575.8 872 570 C871.7 564.2 871.2 544.4 871 540 C870.8 535.6 870.6 534.9 870.4 530 C870.2 525.1 869.4 501.2 869 496 C868.6 490.8 867.6 484.8 867 483 C866.4 481.2 864.3 479.8 863.6 480 C862.9 480.2 861.6 483.4 861 485 C860.4 486.6 858.6 491.9 858 494 C857.4 496.1 856.4 504.7 856 504 C855.6 503.3 854.7 489.3 854.4 488 C854.1 486.7 853.4 493.1 853 492 C852.6 490.9 851.6 480.4 851 478 C850.4 475.6 848.8 470.3 848 470 C847.2 469.7 844.8 473.6 844 475 C843.2 476.4 841.6 485.4 841 483 C840.4 480.6 839.7 455.3 839 453 C838.3 450.7 835.9 459.9 835 462 C834.1 464.1 831.9 469.6 831 472 C830.1 474.4 827.8 481 827 484 C826.2 487 824.3 498.3 823.6 499 C822.9 499.7 821.6 490.6 821 490 C820.4 489.4 818.7 492.9 818 494 C817.3 495.1 815.7 498 815 500 C814.3 502 812.7 509 812 512 C811.3 515 809.6 529 809 527 C808.4 525 807.4 497.4 807 494 C806.6 490.6 805.6 493.6 805 496 C804.4 498.4 802.7 513.1 802 516 C801.3 518.9 799.6 521.8 799 522 C798.4 522.2 797.6 518.3 797 518 C796.4 517.7 794.7 518.4 794 519 C793.3 519.6 791.6 524.7 791 523 C790.4 521.3 788.9 505.3 788.4 504 C787.9 502.7 786.8 510.6 786.4 511 C786 511.4 785.5 506.8 785 508 C784.5 509.2 782.6 522.8 782 522 C781.4 521.2 780.6 502.6 780 501 C779.4 499.4 777.7 505.6 777 508 C776.3 510.4 774.7 523 774 523 C773.3 523 771.7 508.1 771 508 C770.3 507.9 768.7 518.1 768 522 C767.3 525.9 765.5 542.6 765 543 C764.5 543.4 763.9 530.1 763.6 526 C763.3 521.9 762.4 508.4 762 506 C761.6 503.6 760.3 506.4 760 504 C759.7 501.6 759.3 486.9 759 484 C758.7 481.1 757.6 480.6 757 478 C756.4 475.4 755.1 463 754 461 C752.9 459 748.1 460.8 747 460 C745.9 459.2 744.7 455.4 744 454 C743.3 452.6 741.8 447 741 447 C740.2 447 737.8 451.4 737 454 C736.2 456.6 734.7 466.7 734 470 C733.3 473.3 731.7 480.9 731 484 C730.3 487.1 728.7 494.2 728 498 C727.3 501.8 725.7 515.1 725 518 C724.3 520.9 722.8 522.4 722 524 C721.2 525.6 718.8 529.8 718 532 C717.2 534.2 715.6 541.6 715 544 C714.4 546.4 712.9 556.4 712.4 554 C711.9 551.6 710.9 524.2 710.4 522 C709.9 519.8 708.5 533.8 708 534 C707.5 534.2 706.5 527.3 706 524 C705.5 520.7 704.2 506.9 703.6 504 C703 501.1 701.6 501.3 701 498 C700.4 494.7 698.6 477.7 698 474 C697.4 470.3 696.6 464.6 696 465 C695.4 465.4 693.7 473.7 693 478 C692.3 482.3 690.7 498.9 690 504 C689.3 509.1 687.7 520.2 687 524 C686.3 527.8 684.5 536 684 538 C683.5 540 682.9 540.7 682.5 542 C682.1 543.3 680.9 547.9 680.5 550 C680.1 552.1 679.1 560.5 678.8 561 C678.5 561.5 678.1 554.9 677.8 554.5 C677.5 554.1 676.9 555.3 676.5 557 C676.1 558.7 674.9 567.3 674.5 570 C674.1 572.7 673.1 581.3 672.8 581.5 C672.5 581.7 671.8 573.5 671.5 572 C671.2 570.5 670.5 568.2 670.2 568 C669.9 567.8 669.3 568.7 669 570 C668.7 571.3 667.9 576.7 667.5 580 C667.1 583.3 666 593.7 665.2 600 C664.4 606.3 661.2 637 660.5 637 C659.8 637 659.4 607.4 659.2 600 C659 592.6 658.6 576.2 658.5 570 C658.4 563.8 658.2 549.3 658 544 C657.8 538.7 657.2 523.8 657 522 C656.8 520.2 656.3 527.6 656 528 C655.7 528.4 654.7 528.4 654.4 526 C654.1 523.6 653.3 509.7 653 506 C652.7 502.3 651.9 494.6 651.6 493 C651.3 491.4 650.4 493.7 650 492 C649.6 490.3 648.5 481.7 648 478 C647.5 474.3 646.2 462 645.6 459 C645 456 643.6 451.7 643 451 C642.4 450.3 640.7 451.7 640 453 C639.3 454.3 637.8 461.2 637 463 C636.2 464.8 633.8 469.4 633 469.6 C632.2 469.8 630.6 466.7 630 465 C629.4 463.3 628.6 455.3 628 454 C627.4 452.7 625.7 452.3 625 453 C624.3 453.7 622.4 462.6 622 460 C621.6 457.4 621.3 434.7 621 430 C620.7 425.3 619.6 420.2 619 418 C618.4 415.8 616.7 410.4 616 410 C615.3 409.6 613.1 413.8 612.4 414.4 C611.7 415 610.2 416.2 609.6 415 C609 413.8 607.5 404.8 607 404 C606.5 403.2 605.6 406.7 605 408 C604.4 409.3 602.8 415.6 602 415.6 C601.2 415.6 599.1 409.1 598 408 C596.9 406.9 593.3 405.8 592 405.6 C590.7 405.4 587.1 405.9 586 406.4 C584.9 406.9 582.8 408 582 410 C581.2 412 579.7 421.6 579 424 C578.3 426.4 576.8 430.8 576 432 C575.2 433.2 572.7 437 572 435 C571.3 433 570.4 419 570 414 C569.6 409 568.7 394.9 568 390 C567.3 385.1 564.9 373.8 564 370 C563.1 366.2 560.7 358.1 560 356 C559.3 353.9 558.6 352.3 558 351.2 C557.4 350.1 555.5 346 554.8 346.4 C554.1 346.8 552.2 353.3 551.6 355.2 C551 357.1 549.7 362 549.2 363.2 C548.7 364.4 547.5 365.7 546.8 365.6 C546.1 365.5 543.6 362.7 542.8 362.4 C542 362.1 540.4 363.2 539.6 363.2 C538.8 363.2 536.4 363.1 535.6 362.4 C534.8 361.7 533.1 358 532.4 356.8 C531.7 355.6 530 351.5 529.2 351.2 C528.4 350.9 526.2 354 525.2 354.4 C524.2 354.8 521.4 354.5 520.4 355.2 C519.4 355.9 517.3 359.6 516.4 360.8 C515.5 362 513.1 364.2 512.4 365.6 C511.7 367 510.7 371.2 510 373.6 C509.3 376 506.7 385.2 506 387.2 C505.3 389.2 504.1 390.9 503.6 391.2 C503.1 391.5 501.7 390.7 501.2 389.6 C500.7 388.5 499.3 383.9 498.8 381.6 C498.3 379.3 496.9 370.6 496.4 368.8 C495.9 367 494.5 365.6 494 365.6 C493.5 365.6 492.3 367.6 491.6 368.8 C490.9 370 488.6 375.2 487.6 376.8 C486.6 378.4 483.6 381.8 482.8 383.2 C482 384.6 481.1 388.4 480.4 389.6 C479.7 390.8 477.8 393.3 476.4 393.6 C475 393.9 469.3 392.4 467.6 392 C465.9 391.6 462.4 390.1 461.2 389.6 C460 389.1 457.3 388.1 456.4 387.7 C455.5 387.3 453.8 387.9 453.2 386.4 C452.6 384.9 451.5 375.8 450.8 374.4 C450.1 373 447.6 374.4 446.8 373.6 C446 372.8 444.3 368.6 443.6 367.2 C442.9 365.8 441 361.2 440.4 360.8 C439.8 360.4 438.6 362.7 438 364 C437.4 365.3 435.5 371.3 434.8 372.8 C434.1 374.3 432.4 377.6 431.6 377.6 C430.8 377.6 428.4 374.1 427.6 372.8 C426.8 371.5 425.1 365.7 424.4 365.6 C423.7 365.5 422 370 421.2 372 C420.4 374 418.1 380.9 417.2 383.2 C416.3 385.5 414 391.6 413.2 392.5 C412.4 393.4 410.6 391.7 410 391.2 C409.4 390.7 408.6 387.8 408 388 C407.4 388.2 405.5 391.6 404.8 392.8 C404.1 394 402.2 398.3 401.6 399.2 C401 400.1 399.8 400.8 399.2 400.8 C398.6 400.8 396.9 399.3 396 399.2 C395.1 399.1 392 400.1 391.2 400 C390.4 399.9 389.4 399.4 388.8 398.4 C388.2 397.4 386.2 393.1 385.6 391.2 C385 389.3 383.8 383.5 383.2 381.6 C382.6 379.7 380.9 375.9 380 374.4 C379.1 372.9 376.4 369.3 375.2 368 C374 366.7 370.1 363.5 368.8 362.4 C367.5 361.3 364.1 358.6 363.2 358.4 C362.3 358.2 361.4 360 360.8 360.8 C360.2 361.6 358.4 364.6 357.6 365.6 C356.8 366.6 354.3 369.7 353.6 370.1 C352.9 370.5 351.8 368.6 351.2 368.8 C350.6 369 348.9 370.8 348 372 C347.1 373.2 344.1 378.8 343.2 380 C342.3 381.2 341.1 383.3 340 383.2 C338.9 383.1 334.8 379.8 333.6 379.2 C332.4 378.6 329.9 378.1 328.8 378.1 C327.7 378.1 324.9 378.7 324 379.2 C323.1 379.7 321.5 382.1 320.8 382.4 C320.1 382.7 318.2 381.3 317.6 381.6 C317 381.9 316 384.6 315.2 384.8 C314.4 385 311.4 383.6 310.4 383.2 C309.4 382.8 307.1 380.6 306.4 380.8 C305.7 381 304.6 384.2 304 384.8 C303.4 385.4 301.5 385.7 300.8 386.4 C300.1 387.1 298.3 389.9 297.6 391.2 C296.9 392.5 295.4 397.6 294.4 398.4 C293.4 399.2 290.2 398.3 288.8 398.4 C287.4 398.5 282.7 399.5 281.6 399.2 C280.5 398.9 279.8 396.5 279.2 396 C278.6 395.5 276.9 394.4 276 394.4 C275.1 394.4 272.1 396.2 271.2 396 C270.3 395.8 268.3 394 267.6 392.8 C266.9 391.6 265.8 385.4 265.2 385.6 C264.6 385.8 263 392.4 262 394.4 C261 396.4 257.6 402.6 256.4 404 C255.2 405.4 251.9 406.3 250.8 407.2 C249.7 408.1 247.9 411.8 246.8 412 C245.7 412.2 242.2 410.8 241.2 408.8 C240.2 406.8 239.1 397.2 238 394.4 C236.9 391.6 232.8 385.6 231.6 383.2 C230.4 380.8 227.6 373.7 226.8 372.8 C226 371.9 225 375 224.4 374.9 C223.8 374.8 222 372.8 221.2 372 C220.4 371.2 218 367.3 217.2 367.5 C216.4 367.7 214.9 371.3 214 373.6 C213.1 375.9 210.2 385.5 209.2 388 C208.2 390.5 206.1 395 205.2 396 C204.3 397 202.2 397 201.2 396.8 C200.2 396.6 197.4 395.1 196.4 394.4 C195.4 393.7 193.3 390.6 192.4 390.4 C191.5 390.2 189.4 392.4 188.4 392.8 C187.4 393.2 184.5 394.5 183.6 394.4 C182.7 394.3 181 391.6 180.4 391.5 C179.8 391.4 178.6 393.2 178 393.1 C177.4 393 175.4 390.4 174.8 390.4 C174.2 390.4 173.1 391.1 172.4 392.8 C171.7 394.5 169.4 402.7 168.4 405.6 C167.4 408.5 164.6 417.2 163.6 419.2 C162.6 421.2 160.4 423.2 159.6 423.2 C158.8 423.2 157.3 419.2 156.4 419.2 C155.5 419.2 152.8 422 151.6 423.2 C150.4 424.4 146.3 428.6 145.2 429.6 C144.1 430.6 142.5 431.9 141.8 432.4 C141.1 432.9 139.4 433 138.6 434 C137.8 435 135.4 439.3 134.6 441.2 C133.8 443.1 132.1 448.3 131.4 450.8 C130.7 453.3 129 460.8 128.2 463.6 C127.4 466.4 124.9 474.5 124.2 476.4 C123.5 478.3 122.6 480.9 122.2 480.4 C121.8 479.9 121 474.5 120.6 471.6 C120.2 468.7 119.4 455.3 119 454 C118.6 452.7 117 459.5 116.6 460 C116.2 460.5 115.7 460.8 115.4 458.8 C115.1 456.8 114.1 443.9 113.9 442 Z" fill="none" stroke="#5252fa" stroke-width="1.3" stroke-linejoin="round"/>
<line x1="113" y1="398.9" x2="955.5" y2="398.9" stroke="#949494" stroke-width="1.4" stroke-dasharray="19.8 11.45"/>
</g>
<path d="M113 409.5 C113.7 410.8 116.8 416.4 118 418.4 C119.2 420.4 120.3 424 121.2 423.5 C122.1 423 123.5 417.8 124.4 415.2 C125.3 412.6 126.5 407.9 127.6 405.6 C128.7 403.3 130.8 400.8 132.4 399.2 C134 397.6 137 395.7 138.8 394.4 C140.6 393.1 143.7 391.7 145.2 390.4 C146.7 389.1 147.7 386.8 149.2 385.6 C150.7 384.4 154 382.2 155.6 381.9 C157.2 381.6 159.1 383.9 160.4 383.2 C161.7 382.5 163.4 379.3 164.4 376.8 C165.4 374.3 166.7 368.5 167.6 365.6 C168.5 362.7 169.8 358.4 170.8 356.8 C171.8 355.2 173.4 354.3 174.8 354.4 C176.2 354.5 178.7 356.6 180.4 357.6 C182.1 358.6 185.2 360.2 186.8 361.1 C188.4 362 190.2 363.7 191.6 363.7 C193 363.7 195.1 361.7 196.4 360.8 C197.7 359.9 199.3 357.2 200.4 357.3 C201.5 357.4 203.3 360.8 204.4 361.6 C205.5 362.4 207.1 363.8 208.4 363.2 C209.7 362.6 211.8 359 213.2 357.6 C214.6 356.2 216.5 353.7 218 353.6 C219.5 353.5 222 355.6 223.6 356.8 C225.2 358 227.6 361.5 229.2 362.1 C230.8 362.7 233.5 361.1 234.8 360.8 C236.1 360.5 237.1 360.1 238 360 C238.9 359.9 240.2 361 241.2 360 C242.2 359 244.1 354.4 245.2 352.8 C246.3 351.2 247.9 348.8 248.9 348.8 C249.9 348.8 251.4 350.9 252.4 352.8 C253.4 354.7 254.5 360.2 255.6 362.4 C256.7 364.6 259 367.4 260.4 368.5 C261.8 369.6 264.1 369 265.6 370.4 C267.1 371.8 269.7 376.7 271.2 378.4 C272.7 380.1 274.4 381.5 276 382.4 C277.6 383.3 280.7 384.3 282.4 384.8 C284.1 385.3 286.5 385.9 288 385.6 C289.5 385.3 291.4 383.6 292.8 382.4 C294.2 381.2 296.1 377.8 297.6 377.3 C299.1 376.8 301.5 378.7 303.2 378.7 C304.9 378.7 308 378.1 309.6 377.6 C311.2 377.1 313.1 376.7 314.4 375.2 C315.7 373.7 317.3 369.9 318.4 367.2 C319.5 364.5 321.3 358.9 322.4 356 C323.5 353.1 325.4 348.7 326.4 347.2 C327.4 345.7 328.6 345.3 329.6 345.6 C330.6 345.9 332.3 348.2 333.6 349.6 C334.9 351 337 353.8 338.4 355.2 C339.8 356.6 341.8 358.8 343.2 359.2 C344.6 359.6 346.6 357.7 348 357.9 C349.4 358.1 351.4 360.3 352.8 360.5 C354.2 360.7 356.3 359.8 357.6 359.2 C358.9 358.6 360.5 356.1 361.6 356 C362.7 355.9 364.3 357.8 365.6 358.4 C366.9 359 369.1 359.3 370.4 360 C371.7 360.7 373.3 362.4 374.4 363.2 C375.5 364 377.1 365.6 378.4 365.9 C379.7 366.2 381.8 365.7 383.2 365.6 C384.6 365.5 386.6 365.1 388 365.3 C389.4 365.5 391.4 366.7 392.8 367.2 C394.2 367.7 396.6 369.3 397.9 369.1 C399.2 368.9 400.6 366.9 401.6 365.6 C402.6 364.3 404 361 404.8 360 C405.6 359 406.3 358.1 407.2 358.4 C408.1 358.7 410.2 361.6 411.2 362.4 C412.2 363.2 413.3 364.5 414.4 364 C415.5 363.5 417.7 359.9 418.8 359.2 C419.9 358.5 421 358.7 422 359.2 C423 359.7 424.9 361.6 426 362.4 C427.1 363.2 428.9 364.6 430 364.8 C431.1 365 432.9 365.3 434 364 C435.1 362.7 437 357.4 438 356 C439 354.6 440.3 354.1 441.2 354.4 C442.1 354.7 443.3 357 444.4 358.4 C445.5 359.8 447.8 362.3 449.2 364 C450.6 365.7 452.7 369 454 370.4 C455.3 371.8 456.7 372.3 458 373.6 C459.3 374.9 461.7 379 462.8 379.2 C463.9 379.4 465 377.6 466 375.2 C467 372.8 468.7 366.1 470 362.4 C471.3 358.7 473.5 352.2 474.8 349.6 C476.1 347 477.8 345.1 478.8 344 C479.8 342.9 480.9 341.8 482 341.9 C483.1 342 485.3 344 486.8 344.8 C488.3 345.6 491 346.4 492.4 347.2 C493.8 348 495.3 348.8 496.4 350.4 C497.5 352 499.3 356.3 500.4 358.4 C501.5 360.5 503.3 364.3 504.4 364.8 C505.5 365.3 507 362.6 508.4 361.6 C509.8 360.6 512.5 359 514 357.6 C515.5 356.2 517.4 353 518.8 352 C520.2 351 522.1 351.6 523.6 350.9 C525.1 350.2 527.6 347.3 529.2 347.2 C530.8 347.1 533.5 349.6 534.8 350.4 C536.1 351.2 537 352 538 352.8 C539 353.6 540.9 356.1 542 356 C543.1 355.9 544.7 353.4 546 352 C547.3 350.6 549.5 348 550.8 346.4 C552.1 344.8 553.7 341.6 554.8 340.8 C555.9 340 557.9 340.5 558.8 340.8 C559.7 341.1 560.3 341.7 561 343 C561.7 344.3 563 347.4 564 350 C565 352.6 567 357.6 568 361 C569 364.4 570 371.4 571 374 C572 376.6 573.7 379 575 379 C576.3 379 578.7 375.3 580 374 C581.3 372.7 582.6 370 584 370 C585.4 370 588.3 372.3 590 374 C591.7 375.7 594.4 379.1 596 382 C597.6 384.9 599.3 391.1 601 394 C602.7 396.9 606.4 401.7 608 402 C609.6 402.3 611 397.6 612 396 C613 394.4 614.1 389.9 615 391 C615.9 392.1 617 399.1 618 404 C619 408.9 621 423.3 622 425 C623 426.7 624.1 418.2 625 416 C625.9 413.8 627.1 408.7 628 409.6 C628.9 410.5 630.1 419.1 631 422 C631.9 424.9 632.4 428.9 634 429.6 C635.6 430.3 640 426.7 642 427 C644 427.3 646.5 431.6 648 432 C649.5 432.4 651.5 429.6 652.4 430 C653.3 430.4 653.2 434.1 654 435 C654.8 435.9 657.3 433 658 436 C658.7 439 658.7 450.9 659 456 C659.3 461.1 659.8 470.9 660.4 472 C661 473.1 662.2 466.7 663 464 C663.8 461.3 665.1 455 666 453 C666.9 451 668 449.8 669 450 C670 450.2 671.6 453.8 673 454.4 C674.4 455 677.4 455.2 679 454 C680.6 452.8 682.7 449.1 684 446 C685.3 442.9 686.9 434.4 688 432 C689.1 429.6 690.9 429.1 692 429 C693.1 428.9 694.7 429.1 695.6 431 C696.5 432.9 697.4 438.9 698 442 C698.6 445.1 699.1 451.1 700 453 C700.9 454.9 703.1 453.6 704 455 C704.9 456.4 705.3 462.4 706 463 C706.7 463.6 708.1 458.7 709 459 C709.9 459.3 710.7 465 712 465 C713.3 465 716.3 459.3 718 459 C719.7 458.7 722.6 463.7 724 463 C725.4 462.3 726.9 457.3 728 454 C729.1 450.7 731 444.3 732 440 C733 435.7 734.3 428.3 735 424 C735.7 419.7 736.1 414 737 410 C737.9 406 739.7 398 741 396 C742.3 394 744.6 396.7 746 396 C747.4 395.3 749.6 391 751 391 C752.4 391 754.9 394.4 756 396 C757.1 397.6 758.1 399.1 759 402 C759.9 404.9 761.1 411.4 762 416 C762.9 420.6 763.7 431 765 434 C766.3 437 769.9 434.3 771 437 C772.1 439.7 772.1 449.7 773 453 C773.9 456.3 775.9 458.4 777 460 C778.1 461.6 780 461.9 781 464 C782 466.1 783.3 472.6 784 475 C784.7 477.4 785.3 481 786 481 C786.7 481 788 477.4 789 475 C790 472.6 791.9 466.4 793 464 C794.1 461.6 795.7 459.4 797 458 C798.3 456.6 800.7 455.4 802 454 C803.3 452.6 805 447.4 806 448 C807 448.6 808.3 454.9 809 458 C809.7 461.1 810.4 467.6 811 470 C811.6 472.4 812.3 475.7 813 475 C813.7 474.3 815 467.3 816 465 C817 462.7 818.9 460.4 820 459 C821.1 457.6 822.9 456.7 824 455 C825.1 453.3 826.9 449.3 828 447 C829.1 444.7 830.7 440.9 832 439 C833.3 437.1 835.7 433.9 837 434 C838.3 434.1 840 440.1 841 440 C842 439.9 842.9 434.4 844 433 C845.1 431.6 847.7 429.9 849 430 C850.3 430.1 852.1 431.9 853 434 C853.9 436.1 854.9 444.6 855.6 445 C856.3 445.4 857.2 438.6 858 437 C858.8 435.4 860 433.7 861 434 C862 434.3 864 436.4 865 439 C866 441.6 867.3 447.6 868 452 C868.7 456.4 869.3 464.6 869.6 470 C869.9 475.4 870.2 484.3 870.4 490 C870.6 495.7 870.9 505.1 871.2 510 C871.5 514.9 871.7 521.4 872.4 524 C873.1 526.6 875.2 525.6 876 528 C876.8 530.4 877.4 540.1 878 541 C878.6 541.9 879.3 536.1 880 534 C880.7 531.9 882.3 526.4 883 526 C883.7 525.6 884.3 531 885 531 C885.7 531 887 527 888 526 C889 525 890.9 525.4 892 524 C893.1 522.6 895.1 516 896 516 C896.9 516 897.5 520.4 898 524 C898.5 527.6 899.1 540.4 899.6 541 C900.1 541.6 900.7 531.4 901.2 528 C901.7 524.6 902.3 519.6 903 517 C903.7 514.4 905 511.7 906 510 C907 508.3 909 506.6 910 505 C911 503.4 912.1 499.7 913 499 C913.9 498.3 915.1 501.6 916 500 C916.9 498.4 918.1 491.7 919 488 C919.9 484.3 921.1 478.3 922 474 C922.9 469.7 924.1 462.7 925 458 C925.9 453.3 927.4 444.7 928 441 C928.6 437.3 928.4 434.3 929 432 C929.6 429.7 931 426.3 932 425 C933 423.7 935 422.6 936 423 C937 423.4 938.3 425.9 939 428 C939.7 430.1 940 436 941 438 C942 440 944.9 439.7 946 442 C947.1 444.3 948.3 450 949 454 C949.7 458 950.4 466 951 470 C951.6 474 952.4 480.1 953 482 C953.6 483.9 955.1 482.9 955.5 483" fill="none" stroke="#000" stroke-width="6.6" stroke-linejoin="round" stroke-linecap="butt" clip-path="url(#lineclip)"/>
<g>
<rect x="144.5" y="562.5" width="137.5" height="138" fill="#fff"/>
<g clip-path="url(#logoclip)">
<rect x="144" y="562" width="139" height="140" fill="#3a7ccb"/>
<rect x="144" y="562" width="139" height="140" fill="url(#lgC)"/>
<rect x="144" y="562" width="139" height="140" fill="url(#lgA)"/>
<rect x="144" y="562" width="139" height="140" fill="url(#lgB)"/>
<polygon points="203,560 232,560 246,676 196,676" fill="url(#lgBeam)"/>
<polygon points="226,560 244,560 272,660 248,660" fill="url(#lgBeam)" opacity="0.5"/>
<rect x="144" y="562" width="139" height="140" fill="url(#lgD)"/>
<rect x="144" y="562" width="139" height="140" fill="url(#lgF)"/>
<rect x="144" y="562" width="139" height="140" fill="url(#lgE)"/>
<g fill="#3f8fb4" fill-opacity="0.55">
<ellipse cx="166" cy="590" rx="5" ry="1.6" transform="rotate(25 166 590)"/>
<ellipse cx="188" cy="576" rx="2.2" ry="0.8"/><ellipse cx="196" cy="581" rx="2.2" ry="0.8"/>
<ellipse cx="184" cy="586" rx="2.2" ry="0.8"/><ellipse cx="201" cy="572" rx="2" ry="0.8"/>
<ellipse cx="178" cy="598" rx="2.2" ry="0.8"/><ellipse cx="192" cy="604" rx="2.2" ry="0.8"/>
<ellipse cx="206" cy="596" rx="2" ry="0.8"/><ellipse cx="172" cy="610" rx="2.2" ry="0.8"/>
<ellipse cx="222" cy="606" rx="2" ry="0.8"/><ellipse cx="236" cy="598" rx="2" ry="0.8"/>
</g>
<g fill="#8fc0ec" fill-opacity="0.45">
<circle cx="254" cy="596" r="1"/><circle cx="259" cy="604" r="0.9"/><circle cx="250" cy="609" r="0.9"/>
<circle cx="263" cy="613" r="1"/><circle cx="256" cy="619" r="0.8"/><circle cx="247" cy="588" r="0.8"/>
<circle cx="266" cy="600" r="0.8"/><circle cx="252" cy="664" r="1"/><circle cx="250" cy="670" r="0.8"/>
</g>
<g fill="#3f72bc" fill-opacity="0.35">
<ellipse cx="163" cy="650" rx="8" ry="2.6"/><ellipse cx="176" cy="662" rx="9" ry="2.8"/>
<ellipse cx="160" cy="668" rx="7" ry="2.4"/><ellipse cx="197" cy="674" rx="10" ry="2.6"/>
<ellipse cx="246" cy="648" rx="6" ry="2.2"/><ellipse cx="260" cy="652" rx="6" ry="2.2"/>
<ellipse cx="254" cy="643" rx="6" ry="2.2"/><ellipse cx="268" cy="646" rx="5" ry="2"/>
</g>
<path d="M188.9 657.6 C190.5 655.6 192.5 654.6 194.3 654 C198.5 652.6 203 651.8 207 651.3 L211.5 653.5 C214.5 652.6 217.5 652.2 219.7 652.2 L224.5 654 C228.5 655.6 231.5 658 234.2 660.4 C238 659.4 241.6 658 244.7 656.4 C242.4 658.6 240.2 660.8 238.7 663.1 C239.4 665.4 240.4 667.6 241.4 669.4 C238.8 668.2 236.4 666.6 234.2 664.9 C231.4 665.8 228.2 666.4 225.1 666.7 L222 669.2 L217.9 667.6 C214.8 667.6 211.8 667.3 208.8 666.7 C205 666 201.4 665.2 198 664 C195.6 663.2 193.4 662.3 191.6 661.3 C190.4 660.2 189.4 658.9 188.9 657.6 Z" fill="url(#lgFish)" fill-opacity="0.95"/>
<path d="M250.5 673.5 C253.5 671.2 258.5 671 262 672.6 C263.4 673.2 264.6 674.2 266 675.4 L270 674 L268.4 678.6 C265 679.2 260.6 678.8 257 677.6 C254.4 676.8 252 675.4 250.5 673.5 Z" fill="#9cbfe2" fill-opacity="0.9"/>
</g>
<text class="logo" x="155.6" y="642.3" textLength="116.2" lengthAdjust="spacingAndGlyphs">J-SCOPE</text>
</g>
<text class="title" x="534.4" y="50.6" text-anchor="middle">8-day Upwelling Index, 2020</text>
<text class="tick" x="99.7" y="80.3" text-anchor="end">150</text>
<text class="tick" x="99.7" y="190.9" text-anchor="end">100</text>
<text class="tick" x="99.7" y="301.5" text-anchor="end">50</text>
<text class="tick" x="99.7" y="412" text-anchor="end">0</text>
<text class="tick" x="99.7" y="522.6" text-anchor="end">-50</text>
<text class="tick" x="99.7" y="633.2" text-anchor="end">-100</text>
<text class="tick" x="99.7" y="743.8" text-anchor="end">-150</text>
<text class="tick" x="113" y="778.4" text-anchor="middle">May</text>
<text class="tick" x="219.6" y="778.4" text-anchor="middle">Jun</text>
<text class="tick" x="322.8" y="778.4" text-anchor="middle">Jul</text>
<text class="tick" x="429.4" y="778.4" text-anchor="middle">Aug</text>
<text class="tick" x="536" y="778.4" text-anchor="middle">Sep</text>
<text class="tick" x="639.1" y="778.4" text-anchor="middle">Oct</text>
<text class="tick" x="745.7" y="778.4" text-anchor="middle">Nov</text>
<text class="tick" x="848.9" y="778.4" text-anchor="middle">Dec</text>
<text class="tick" x="955.5" y="778.4" text-anchor="middle">Jan</text>
</svg>
</body>
</html>
